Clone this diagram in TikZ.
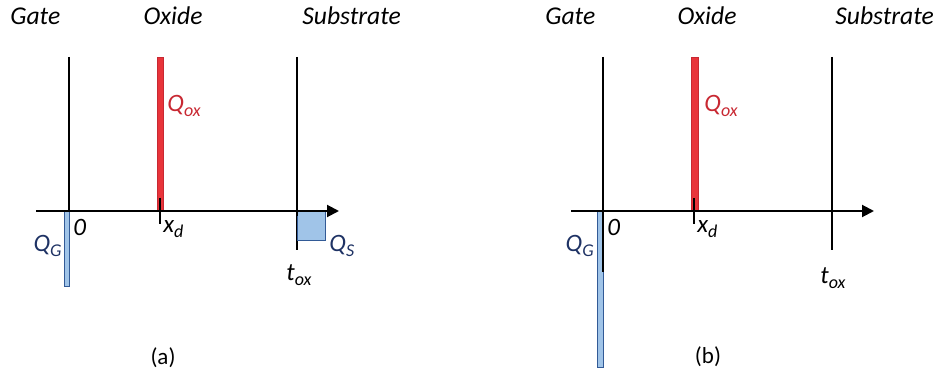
\documentclass[tikz,border=0pt]{standalone}
\usepackage{fontspec}
\setmainfont{Carlito}
\usetikzlibrary{arrows.meta}
\definecolor{qred}{RGB}{232,52,58}
\definecolor{qredd}{RGB}{200,40,50}
\definecolor{qblue}{RGB}{160,196,232}
\definecolor{qblued}{RGB}{50,90,150}
\definecolor{qnavy}{RGB}{30,50,100}
\newcommand{\sbx}[1]{\raisebox{-0.45ex}{\fontsize{9}{10}\selectfont #1}}
\tikzset{
  lbl/.style={inner sep=0pt, font=\fontsize{12.5}{14}\selectfont\itshape},
  ttl/.style={inner sep=0pt, font=\fontsize{12.8}{14}\selectfont\itshape},
  captxt/.style={inner sep=0pt, font=\fontsize{11.5}{13}\selectfont},
  vline/.style={line width=0.7pt, black},
  tickln/.style={line width=1.1pt, black},
  axisln/.style={line width=1pt, black, -{Triangle[length=6pt,width=6pt]}},
  redbar/.style={fill=qred, draw=qredd, line width=0.4pt},
  bluebar/.style={fill=qblue, draw=qblued, line width=0.5pt},
}
\begin{document}
\begin{tikzpicture}[x=0.5pt,y=-0.5pt]
\useasboundingbox (0,0) rectangle (937,379);
% ---------- panel (a) ----------
\node[ttl, anchor=west] (ga) at (10,16) {Gate};
\node[ttl] (oa) at (173,16) {Oxide};
\node[ttl, anchor=west] (sa) at (302,16) {Substrate};
\coordinate (a0t) at (69,57);
\coordinate (a0b) at (69,211);
\coordinate (ast) at (297,57);
\coordinate (asb) at (297,250);
\draw[vline] (a0t) -- (a0b);
\draw[vline] (ast) -- (asb);
\draw[redbar] (157,57) rectangle (163,211);
\draw[bluebar] (64,211) rectangle (69,287);
\draw[bluebar] (297,211) rectangle (325,241);
\coordinate (aaxs) at (36,211);
\coordinate (aaxe) at (339,211);
\draw[axisln] (aaxs) -- (aaxe);
\draw[tickln] (69,199) -- (69,212);
\draw[tickln] (160,198) -- (160,224);
\draw[tickln] (297,200) -- (297,216);
\node[lbl, text=qredd, anchor=west] (aqox) at (167,106) {Q\sbx{ox}};
\node[lbl, anchor=west] (a0) at (73,227) {0};
\node[lbl, anchor=west] (axd) at (163,229) {x\sbx{d}};
\node[lbl, text=qnavy, anchor=east] (aqg) at (62,246) {Q\sbx{G}};
\node[lbl, text=qnavy, anchor=west] (aqs) at (329,246) {Q\sbx{S}};
\node[lbl, anchor=west] (atox) at (286,275) {t\sbx{ox}};
\node[captxt] (capa) at (163,358) {(a)};
% ---------- panel (b) ----------
\node[ttl, anchor=west] (gb) at (545,16) {Gate};
\node[ttl] (ob) at (707,16) {Oxide};
\node[ttl, anchor=west] (sb) at (835,16) {Substrate};
\coordinate (b0t) at (603,57);
\coordinate (b0b) at (603,211);
\coordinate (bst) at (832,57);
\coordinate (bsb) at (832,250);
\draw[vline] (b0t) -- (b0b);
\draw[vline] (bst) -- (bsb);
\draw[redbar] (691,57) rectangle (698,211);
\draw[bluebar] (597,211) rectangle (603,367);
\coordinate (baxs) at (571,211);
\coordinate (baxe) at (874,211);
\draw[axisln] (baxs) -- (baxe);
\draw[tickln] (603,199) -- (603,212);
\draw[line width=0.9pt] (603,211) -- (603,272);
\draw[tickln] (694,198) -- (694,224);
\draw[tickln] (832,200) -- (832,226);
\node[lbl, text=qredd, anchor=west] (bqox) at (704,106) {Q\sbx{ox}};
\node[lbl, anchor=west] (b0) at (607,227) {0};
\node[lbl, anchor=west] (bxd) at (697,229) {x\sbx{d}};
\node[lbl, text=qnavy, anchor=east] (bqg) at (594,246) {Q\sbx{G}};
\node[lbl, anchor=west] (btox) at (820,278) {t\sbx{ox}};
\node[captxt] (capb) at (708,357) {(b)};
\end{tikzpicture}
\end{document}
